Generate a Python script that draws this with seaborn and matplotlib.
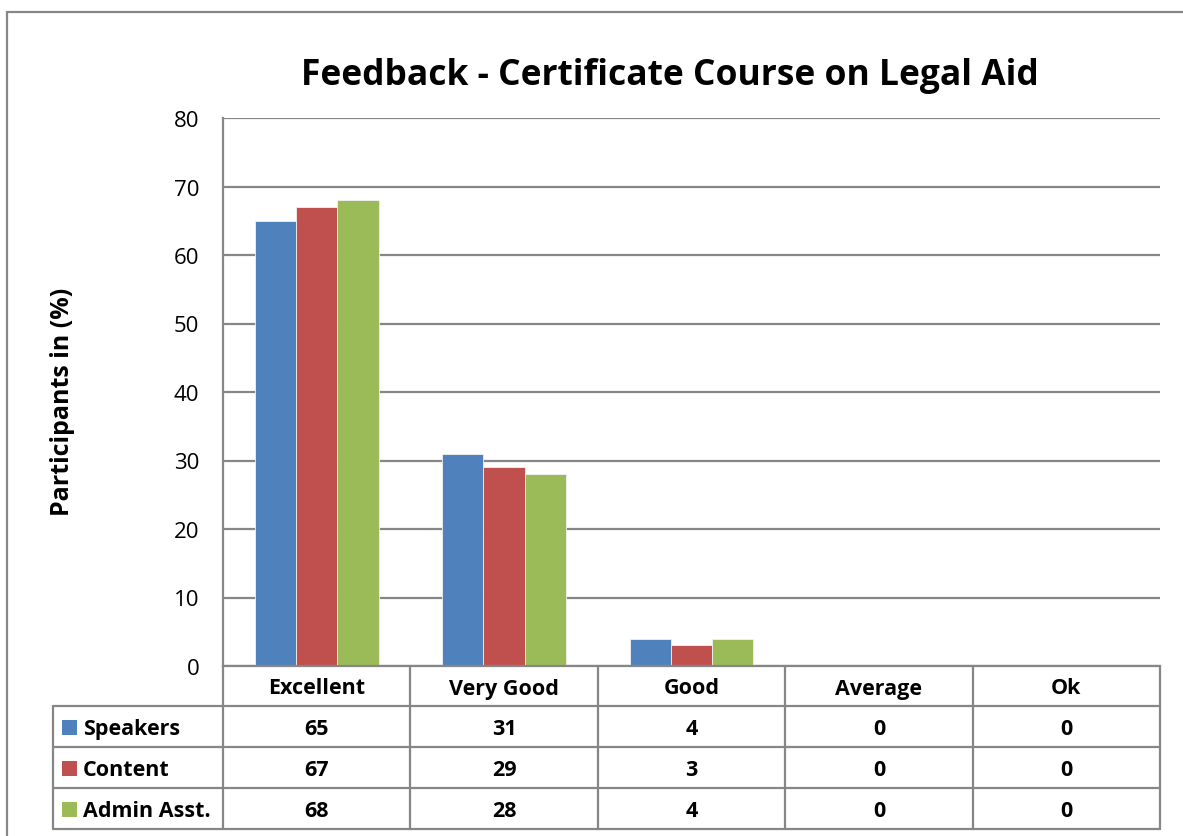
import matplotlib
matplotlib.use("Agg")
import matplotlib.pyplot as plt
import seaborn as sns
import pandas as pd
from matplotlib.patches import Rectangle
from matplotlib.lines import Line2D

categories = ["Excellent", "Very Good", "Good", "Average", "Ok"]
series_names = ["Speakers", "Content", "Admin Asst."]
speakers = [65, 31, 4, 0, 0]
content = [67, 29, 3, 0, 0]
admin_asst = [68, 28, 4, 0, 0]
yticks = [0, 10, 20, 30, 40, 50, 60, 70, 80]
title = "Feedback - Certificate Course on Legal Aid"
ylabel = "Participants in (%)"
colors = ["#4F81BD", "#C0504D", "#9BBB59"]

series_values = [speakers, content, admin_asst]
df = pd.DataFrame({
    "category": categories * 3,
    "series": [s for s in series_names for _ in categories],
    "value": speakers + content + admin_asst,
})

sns.set_theme(style="white")
plt.rcParams["font.family"] = ["Open Sans", "DejaVu Sans"]

W, H = 1183, 837
fig = plt.figure(figsize=(W / 100, H / 100), dpi=100)

# plot area in pixel coordinates
L, R, T, B = 223, 1160, 119, 667
ax = fig.add_axes([L / W, 1 - B / H, (R - L) / W, (B - T) / H])
grid_c = "#868686"

sns.barplot(data=df, x="category", y="value", hue="series", order=categories,
            hue_order=series_names, palette=colors, width=0.66, ax=ax,
            legend=False, edgecolor="#f2f2f2", linewidth=0.6, saturation=1)
ax.set_xlim(-0.5, len(categories) - 0.5)
ax.set_ylim(0, 80)
ax.set_yticks(yticks)
ax.set_yticklabels([str(v) for v in yticks], fontsize=16, color="black")
ax.tick_params(axis="y", length=0, pad=17, labelcolor="black")
ax.set_xticks([])
ax.set_xlabel("")
ax.set_ylabel("")
ax.grid(axis="y", color=grid_c, linewidth=1.6)
ax.set_axisbelow(True)
for s in ["top", "right"]:
    ax.spines[s].set_visible(False)
ax.spines["left"].set_color(grid_c)
ax.spines["left"].set_linewidth(1.6)
ax.spines["bottom"].set_color(grid_c)
ax.spines["bottom"].set_linewidth(1.6)

# overlay axes in pixel space for table, title, border
ov = fig.add_axes([0, 0, 1, 1], facecolor="none")
ov.set_xlim(0, W)
ov.set_ylim(H, 0)
ov.axis("off")

def line(x0, y0, x1, y1, c=grid_c, lw=1.6):
    ov.add_line(Line2D([x0, x1], [y0, y1], color=c, linewidth=lw))

# outer border
line(7, 13, W, 13)
line(7, 13, 7, H)

# title and y label
ov.text(670, 76, title, ha="center", va="center",
        fontsize=25.5, fontweight="bold", color="black")
ov.text(63, 402, ylabel, ha="center", va="center", rotation=90,
        fontsize=18, fontweight="bold", color="black")

# data table
col_w = (R - L) / len(categories)
row_tops = [667, 707, 748, 789, 830]
tbl_left = 53
for y in row_tops[1:]:
    line(tbl_left, y, R, y)
line(tbl_left, row_tops[1], tbl_left, row_tops[-1])
for i in range(len(categories) + 1):
    x = L + i * col_w
    line(x, row_tops[0], x, row_tops[-1])

fs = 15.5
for i, cat in enumerate(categories):
    cx = L + (i + 0.5) * col_w
    ov.text(cx, (row_tops[0] + row_tops[1]) / 2 + 2, cat, ha="center",
            va="center", fontsize=fs, fontweight="bold", color="black")

for r, (name, vals, col) in enumerate(zip(series_names, series_values, colors)):
    cy = (row_tops[r + 1] + row_tops[r + 2]) / 2
    ov.add_patch(Rectangle((62, cy - 7), 15, 15, facecolor=col, edgecolor="none"))
    ov.text(83, cy + 2, name, ha="left", va="center", fontsize=fs,
            fontweight="bold", color="black")
    for i, v in enumerate(vals):
        cx = L + (i + 0.5) * col_w
        ov.text(cx, cy + 2, str(v), ha="center", va="center", fontsize=fs,
                fontweight="bold", color="black")

fig.savefig("out.png", dpi=100, facecolor="white")
